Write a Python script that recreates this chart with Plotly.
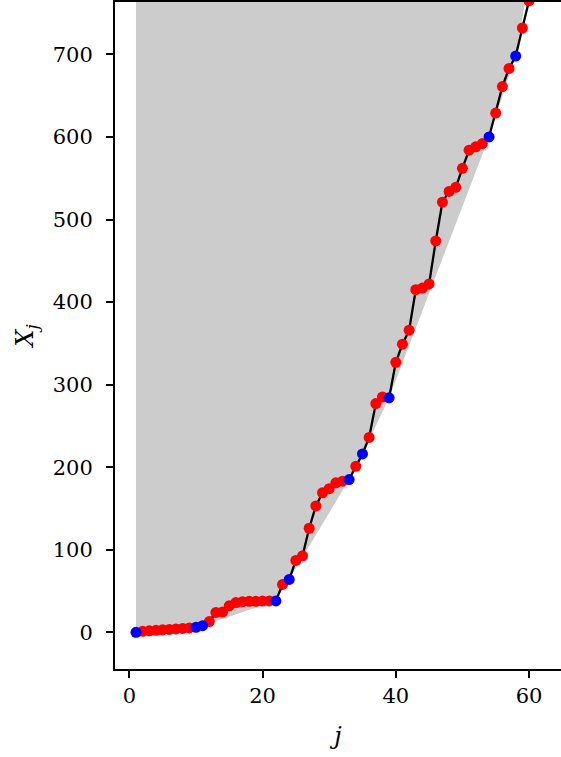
import plotly.graph_objects as go

# Sequence X_j, j = 1..60
j_vals = list(range(1, 61))
x_vals = [
    0, 1.2, 1.8, 2.3, 2.9, 3.5, 4.0, 4.6, 5.2, 6.0,
    8.0, 13, 24, 24.6, 32, 36, 37, 37.5, 37.5, 37.8,
    38, 38, 58, 64, 87, 92.6, 126, 153, 169, 174,
    181, 183, 185, 201, 216, 236, 277, 285, 284, 327,
    349, 366, 415, 417, 422, 474, 521, 534, 539, 562,
    584, 588, 592, 600, 629, 661, 683, 698, 732, 765,
]

# Vertices of the lower convex hull (the last one lies beyond the visible window)
hull_j = [1, 10, 11, 22, 24, 33, 35, 39, 54, 58, 63]
hull_x = [0, 6.0, 8.0, 38, 64, 185, 216, 284, 600, 698, 928]

FILL_TOP = 1200  # far above the visible range

hull_set = set(hull_j)
blue_j = [j for j in j_vals if j in hull_set]
blue_x = [x for j, x in zip(j_vals, x_vals) if j in hull_set]
red_j = [j for j in j_vals if j not in hull_set]
red_x = [x for j, x in zip(j_vals, x_vals) if j not in hull_set]

fig = go.Figure()

# Region above the lower hull
fig.add_trace(go.Scatter(
    x=hull_j + [hull_j[-1], hull_j[0]],
    y=hull_x + [FILL_TOP, FILL_TOP],
    fill="toself", fillcolor="#cccccc", mode="none",
    hoverinfo="skip", showlegend=False,
))

# The sequence itself
fig.add_trace(go.Scatter(
    x=j_vals, y=x_vals, mode="lines",
    line=dict(color="black", width=2.3), showlegend=False,
))
fig.add_trace(go.Scatter(
    x=red_j, y=red_x, mode="markers",
    marker=dict(color="#ff0000", size=11, line=dict(width=0)), showlegend=False,
))
fig.add_trace(go.Scatter(
    x=blue_j, y=blue_x, mode="markers",
    marker=dict(color="#0000ff", size=11, line=dict(width=0)), showlegend=False,
))

font_family = "DejaVu Serif"

fig.update_layout(
    width=561, height=757,
    margin=dict(l=115, r=0, t=2, b=88),
    paper_bgcolor="white", plot_bgcolor="white",
    font=dict(family=font_family, size=21, color="black"),
    xaxis=dict(
        range=[-2.15, 64.8],
        tickvals=[0, 20, 40, 60],
        ticks="outside", ticklen=7, tickwidth=1.5, tickcolor="black",
        showline=True, linecolor="black", linewidth=2, mirror=True,
        showgrid=False, zeroline=False,
        title=dict(text="<i>j</i>", font=dict(size=24, family=font_family), standoff=20),
    ),
    yaxis=dict(
        range=[-44.5, 763.5],
        tickvals=[0, 100, 200, 300, 400, 500, 600, 700],
        ticks="outside", ticklen=7, tickwidth=1.5, tickcolor="black",
        showline=True, linecolor="black", linewidth=2, mirror=False,
        showgrid=False, zeroline=False,
        ticklabelstandoff=9,
        title=dict(text="<i>X<sub>j</sub></i>", font=dict(size=24, family=font_family), standoff=12),
    ),
)

fig.write_html("out.html")
